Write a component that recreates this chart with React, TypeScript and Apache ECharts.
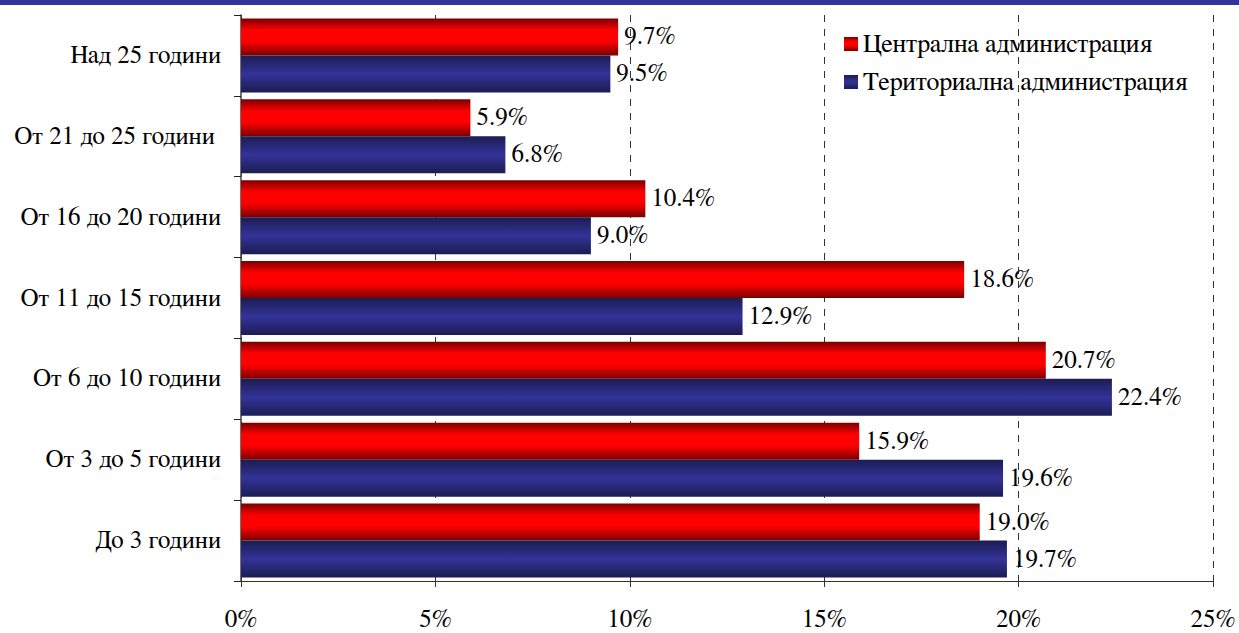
import React, { useEffect, useRef } from "react";
import * as echarts from "echarts";

// Categories from bottom to top (category axis grows upward)
const categories = [
  "До 3 години",
  "От 3 до 5 години",
  "От 6 до 10 години",
  "От 11 до 15 години",
  "От 16 до 20 години",
  "От 21 до 25 години ",
  "Над 25 години",
];

const centralName = "Централна администрация";
const territorialName = "Териториална администрация";

// Shares in percent, same order as categories
const centralValues = [19.0, 15.9, 20.7, 18.6, 10.4, 5.9, 9.7];
const territorialValues = [19.7, 19.6, 22.4, 12.9, 9.0, 6.8, 9.5];

const xTicks = { min: 0, max: 25, interval: 5 };

const FONT = "FreeSerif, Noto Serif, DejaVu Serif, serif";
const FONT_SIZE = 25;

const redGradient = new echarts.graphic.LinearGradient(0, 0, 0, 1, [
  { offset: 0, color: "#7a0000" },
  { offset: 0.32, color: "#ff0000" },
  { offset: 0.62, color: "#ff0000" },
  { offset: 1, color: "#7a0000" },
]);

const blueGradient = new echarts.graphic.LinearGradient(0, 0, 0, 1, [
  { offset: 0, color: "#1c1c52" },
  { offset: 0.5, color: "#333399" },
  { offset: 1, color: "#1c1c52" },
]);

const valueLabel = {
  show: true,
  position: "right" as const,
  distance: 6,
  color: "#000",
  fontFamily: FONT,
  fontSize: FONT_SIZE,
  formatter: (p: any) => Number(p.value).toFixed(1) + "%",
};

export default function App() {
  const ref = useRef<HTMLDivElement>(null);

  useEffect(() => {
    if (!ref.current) return;
    const chart = echarts.init(ref.current, undefined, { renderer: "svg" });
    chart.setOption({
      animation: false,
      backgroundColor: "#fff",
      textStyle: { fontFamily: FONT, color: "#000" },
      graphic: [
        {
          type: "rect",
          left: 0,
          top: 0,
          shape: { width: 1239, height: 5 },
          style: { fill: "#333399" },
          z: 10,
        },
      ],
      grid: { left: 241, right: 26, top: 15, bottom: 52, outerBoundsMode: "none" },
      legend: {
        data: [centralName, territorialName],
        orient: "vertical",
        left: 839,
        top: 26,
        itemWidth: 14,
        itemHeight: 14,
        itemGap: 12,
        icon: "rect",
        textStyle: { fontFamily: FONT, fontSize: 26, color: "#000" },
      },
      xAxis: {
        type: "value",
        min: xTicks.min,
        max: xTicks.max,
        interval: xTicks.interval,
        axisLine: { show: true, lineStyle: { color: "#333", width: 1 } },
        axisTick: { show: true, length: 6, lineStyle: { color: "#333" } },
        axisLabel: {
          formatter: "{value}%",
          fontFamily: FONT,
          fontSize: FONT_SIZE,
          color: "#000",
          margin: 26,
        },
        splitLine: {
          show: true,
          lineStyle: { color: "#333", type: [7, 7], width: 1 },
        },
      },
      yAxis: {
        type: "category",
        data: categories,
        axisLine: { show: true, lineStyle: { color: "#444", width: 1.5 } },
        axisTick: { show: true, length: 7, lineStyle: { color: "#222" } },
        axisLabel: {
          fontFamily: FONT,
          fontSize: FONT_SIZE,
          color: "#000",
          margin: 20,
        },
      },
      series: [
        {
          name: centralName,
          type: "bar",
          data: centralValues,
          barGap: "0%",
          barCategoryGap: "8.5%",
          itemStyle: { color: redGradient },
          label: valueLabel,
        },
        {
          name: territorialName,
          type: "bar",
          data: territorialValues,
          barGap: "0%",
          barCategoryGap: "8.5%",
          itemStyle: { color: blueGradient },
          label: valueLabel,
        },
      ],
    });
    return () => chart.dispose();
  }, []);

  return (
    <div
      ref={ref}
      style={{ position: "fixed", left: 0, top: 0, width: 1239, height: 633 }}
    />
  );
}
